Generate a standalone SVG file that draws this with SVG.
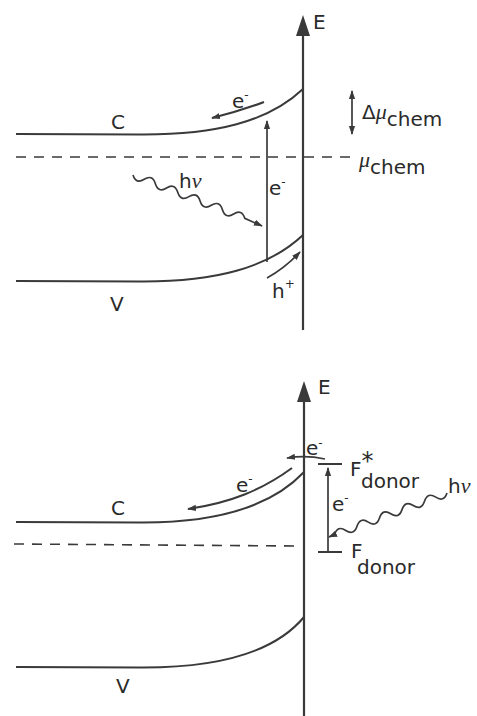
<svg xmlns="http://www.w3.org/2000/svg" width="477" height="716" viewBox="0 0 477 716">
<defs>
<style>
.ln{fill:none;stroke:#3a3a3a;stroke-width:2}
.thin{fill:none;stroke:#3a3a3a;stroke-width:1.7}
.dash{fill:none;stroke:#3a3a3a;stroke-width:1.6;stroke-dasharray:10 8}
.ax{fill:none;stroke:#3a3a3a;stroke-width:2.2}
.head{fill:#3a3a3a}
text{font-family:"DejaVu Sans","Liberation Sans",sans-serif;font-size:20px;fill:#2a2a2a}
.gr{font-family:"Liberation Serif","DejaVu Serif",serif;font-style:italic;font-size:22px}
.sup{font-size:12px}
</style>
<marker id="ah" viewBox="0 0 10 10" refX="9" refY="5" markerWidth="9" markerHeight="9" markerUnits="userSpaceOnUse" orient="auto-start-reverse">
<path d="M0,1.5 L10,5 L0,8.5 Z" fill="#3a3a3a"/>
</marker>
</defs>
<rect width="477" height="716" fill="#ffffff"/>

<g id="top-diagram">
<g id="top-axis">
<line class="ax" x1="303" y1="34" x2="303" y2="330"/>
<polygon class="head" points="303,15 296,36 310,36"/>
<text x="313" y="29">E</text>
</g>
<g id="top-C-band">
<path class="ln" d="M16,134 L140,134.5 C215,135 268,122 303,89"/>
<text x="111" y="129">C</text>
</g>
<g id="top-V-band">
<path class="ln" d="M16,281 L140,281.5 C215,282 268,268 303,235"/>
<text x="110" y="311">V</text>
</g>
<g id="top-mu">
<line class="dash" x1="16" y1="157" x2="356" y2="157"/>
<text x="359" y="167"><tspan class="gr">μ</tspan><tspan dy="7">chem</tspan></text>
</g>
<g id="top-delta-mu">
<line class="thin" x1="352" y1="91" x2="352" y2="134" marker-start="url(#ah)" marker-end="url(#ah)"/>
<text x="362" y="119">Δ<tspan class="gr">μ</tspan><tspan dy="7">chem</tspan></text>
</g>
<g id="top-connectors">
<path class="ln" d="M264,102 Q240,111 212,118" marker-end="url(#ah)"/>
<line class="thin" x1="267" y1="262" x2="267" y2="121" marker-end="url(#ah)"/>
<path class="thin" d="M267,278 Q285,268 300,252" marker-end="url(#ah)"/>
<path class="thin" d="M133,175 q3.06,9.5 11.18,4.33 t11.18,4.33 t11.18,4.33 t11.18,4.33 t11.18,4.33 t11.18,4.33 t11.18,4.33 t11.18,4.33 t11.18,4.33 t11.18,4.33 L262,226" marker-end="url(#ah)"/>
</g>
<text x="232" y="108">e<tspan class="sup" dy="-9">-</tspan></text>
<text x="269" y="195">e<tspan class="sup" dy="-9">-</tspan></text>
<text x="272" y="298">h<tspan class="sup" dy="-10">+</tspan></text>
<text x="179" y="188">h<tspan class="gr">ν</tspan></text>
</g>

<g id="bottom-diagram">
<g id="bottom-axis">
<line class="ax" x1="304" y1="400" x2="304" y2="716"/>
<polygon class="head" points="304,381 297,402 311,402"/>
<text x="318" y="394">E</text>
</g>
<g id="bottom-C-band">
<path class="ln" d="M16,522 L140,522.5 C218,523 272,506 304,472"/>
<text x="111" y="515">C</text>
</g>
<g id="bottom-V-band">
<path class="ln" d="M16,667 L140,667.5 C220,668 275,652 304,617"/>
<text x="116" y="693">V</text>
</g>
<g id="bottom-fermi">
<line class="dash" x1="14" y1="544" x2="300" y2="546"/>
</g>
<g id="F-donor-star">
<line class="ln" x1="318" y1="464" x2="342" y2="464"/>
<text x="350" y="476">F<tspan font-size="24" dy="-7">*</tspan><tspan x="361" dy="19">donor</tspan></text>
</g>
<g id="F-donor">
<line class="ln" x1="318" y1="552" x2="342" y2="552"/>
<text x="351" y="558">F<tspan x="357" dy="16">donor</tspan></text>
</g>
<g id="bottom-connectors">
<path class="ln" d="M292,468 C262,490 230,503 188,509" marker-end="url(#ah)"/>
<path class="thin" d="M325,459 Q306,455 287,458" marker-end="url(#ah)"/>
<line class="thin" x1="328" y1="552" x2="328" y2="468" marker-end="url(#ah)"/>
<path class="thin" d="M447,493 q-3.2,9.5 -11.25,4.16 t-11.25,4.16 t-11.25,4.16 t-11.25,4.16 t-11.25,4.16 t-11.25,4.16 t-11.25,4.16 t-11.25,4.16 t-11.25,4.16 t-11.25,4.16 L329,537" marker-end="url(#ah)"/>
</g>
<text x="236" y="492">e<tspan class="sup" dy="-9">-</tspan></text>
<text x="306" y="455" font-size="17">e<tspan class="sup" dy="-8">-</tspan></text>
<text x="332" y="511">e<tspan class="sup" dy="-9">-</tspan></text>
<text x="448" y="493">h<tspan class="gr">ν</tspan></text>
</g>
</svg>
